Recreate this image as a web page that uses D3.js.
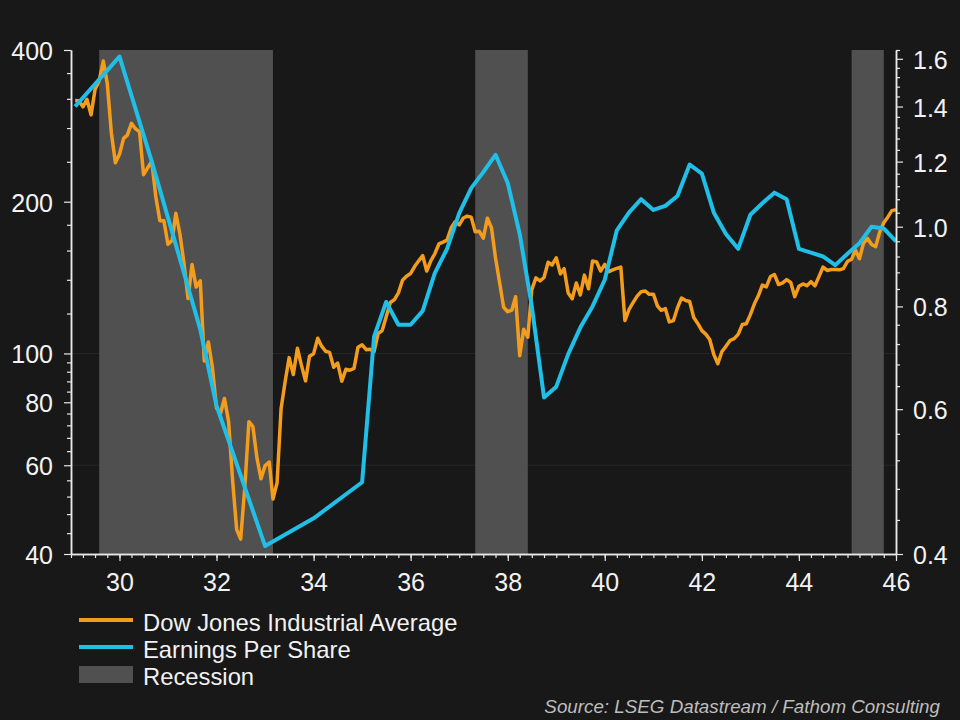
<!DOCTYPE html>
<html>
<head>
<meta charset="utf-8">
<script src="https://cdn.jsdelivr.net/npm/d3@7"></script>
<style>
  body { margin: 0; background: #181818; }
  svg { display: block; }
</style>
</head>
<body>
<svg id="chart" width="960" height="720"></svg>
<script>
// DJIA month-end close, Jan 1929 .. Dec 1945
const dowClose = [
  317.5, 317.4, 308.5, 319.3, 297.4, 333.8, 347.7, 380.3, 343.5, 273.5, 238.9, 248.5,
  267.1, 271.1, 286.1, 279.2, 275.1, 226.3, 233.5, 240.4, 204.9, 183.4, 183.4, 164.6,
  167.6, 189.7, 172.4, 151.2, 128.5, 150.2, 135.4, 139.4, 96.6, 105.4, 93.9, 77.9,
  76.2, 81.4, 73.3, 56.1, 44.7, 42.8, 54.3, 73.2, 71.6, 61.9, 56.4, 59.9,
  60.9, 51.4, 55.4, 77.7, 88.1, 98.1, 90.8, 102.4, 94.8, 88.2, 98.7, 99.9,
  107.2, 103.5, 101.0, 100.5, 93.9, 95.7, 88.1, 93.0, 92.6, 93.4, 102.9, 104.0,
  101.7, 101.9, 100.8, 109.5, 111.0, 118.2, 126.2, 127.9, 131.9, 139.7, 142.3, 144.1,
  148.9, 152.5, 156.3, 145.7, 152.6, 157.7, 164.9, 166.3, 167.8, 177.4, 182.5, 179.9,
  185.7, 187.2, 186.4, 174.3, 174.7, 169.3, 185.5, 177.4, 154.6, 138.1, 123.5, 121.0,
  121.9, 129.6, 99.0, 111.7, 107.7, 133.9, 141.2, 139.3, 141.5, 151.7, 149.8, 154.8,
  143.8, 147.3, 131.8, 128.4, 138.0, 130.6, 143.0, 134.4, 152.5, 151.9, 145.7, 150.2,
  145.3, 146.5, 147.5, 148.4, 116.2, 122.1, 126.1, 129.9, 132.6, 133.0, 131.0, 131.1,
  124.1, 121.8, 122.7, 115.5, 116.2, 123.1, 128.8, 127.4, 126.8, 117.8, 114.7, 111.0,
  109.1, 106.6, 99.5, 95.4, 100.9, 103.3, 106.1, 107.0, 109.1, 114.1, 114.5, 119.4,
  125.6, 130.0, 136.6, 135.5, 142.1, 143.4, 137.0, 138.0, 140.1, 138.3, 129.6, 135.9,
  137.4, 136.3, 138.8, 136.2, 142.2, 148.4, 146.1, 146.7, 146.7, 146.5, 147.3, 152.3,
  153.8, 160.4, 154.1, 165.4, 169.1, 164.5, 162.9, 174.3, 181.7, 186.6, 192.0, 192.9
];

// earnings per share (right axis)
const epsDates = [
  "1929-02", "1930-01", "1930-09", "1931-09", "1932-01", "1933-01", "1934-01", "1935-01",
  "1935-04", "1935-07", "1935-10",
  "1936-01", "1936-04", "1936-07", "1936-10",
  "1937-01", "1937-04", "1937-07", "1937-10",
  "1938-01", "1938-04", "1938-07", "1938-10",
  "1939-01", "1939-04", "1939-07", "1939-10",
  "1940-01", "1940-04", "1940-07", "1940-10",
  "1941-01", "1941-04", "1941-07", "1941-10",
  "1942-01", "1942-04", "1942-07", "1942-10",
  "1943-01", "1943-04", "1943-07", "1943-10",
  "1944-01", "1944-04", "1944-07", "1944-10",
  "1945-01", "1945-04", "1945-07", "1945-10",
  "1946-01"
];
const epsValues = [
  1.40, 1.61, 1.20, 0.75, 0.606, 0.409, 0.442, 0.489,
  0.735, 0.81, 0.76,
  0.76, 0.79, 0.878, 0.94,
  1.039, 1.114, 1.165, 1.223,
  1.13, 0.98, 0.80, 0.62,
  0.639, 0.70, 0.754, 0.80,
  0.862, 0.99, 1.04, 1.08,
  1.048, 1.06, 1.09, 1.19,
  1.16, 1.04, 0.98, 0.94,
  1.034, 1.068, 1.10, 1.08,
  0.94, 0.93, 0.92, 0.898,
  0.927, 0.955, 1.0, 0.995,
  0.96
];

const recStart = ["1929-08", "1937-05", "1945-02"],
  recEnd = ["1933-03", "1938-06", "1945-10"];

const leftTicks = [40, 60, 80, 100, 200, 400],
  rightTicks = [0.4, 0.6, 0.8, 1.0, 1.2, 1.4, 1.6],
  gridValues = [60, 100];

const legendLabels = ["Dow Jones Industrial Average", "Earnings Per Share", "Recession"];
const sourceText = "Source: LSEG Datastream / Fathom Consulting";

const dowColor = "#f49c1c",
  epsColor = "#1fbfe8",
  recColor = "#505050",
  axisColor = "#e8e8e8",
  font = "'Liberation Sans', Arial, sans-serif";

const plotLeft = 71, plotRight = 896, plotTop = 50, plotBottom = 554;

const parseMonth = d3.timeParse("%Y-%m");

const svg = d3.select("#chart")
  .style("background", "#181818")
  .style("font-family", font);

const x = d3.scaleTime()
  .domain([new Date(1929, 0, 1), new Date(1946, 0, 1)])
  .range([plotLeft, plotRight]);

const yDow = d3.scaleLog().domain([40, 400]).range([plotBottom, plotTop]);
const yEps = d3.scaleLog().domain([0.4, 1.64]).range([plotBottom, plotTop]);

// faint gridlines (drawn under the recession bars)
svg.append("g").selectAll("line").data(gridValues).enter()
  .append("line")
  .attr("x1", plotLeft).attr("x2", plotRight)
  .attr("y1", d => yDow(d)).attr("y2", d => yDow(d))
  .attr("stroke", "#262626")
  .attr("stroke-width", 1);

// recession bars
svg.append("g").selectAll("rect").data(recStart).enter()
  .append("rect")
  .attr("x", d => x(parseMonth(d)))
  .attr("width", (d, i) => x(parseMonth(recEnd[i])) - x(parseMonth(d)))
  .attr("y", plotTop)
  .attr("height", plotBottom - plotTop)
  .attr("fill", recColor);

// series
const dowData = dowClose.map((v, i) => ({ date: new Date(1929, i + 1, 1), value: v }));
const epsData = epsValues.map((v, i) => ({ date: parseMonth(epsDates[i]), value: v }));

const dowLine = d3.line().x(d => x(d.date)).y(d => yDow(d.value));
const epsLine = d3.line().x(d => x(d.date)).y(d => yEps(d.value));

svg.append("path")
  .datum(dowData)
  .attr("d", dowLine)
  .attr("fill", "none")
  .attr("stroke", dowColor)
  .attr("stroke-width", 3.5)
  .attr("stroke-linejoin", "round");

svg.append("path")
  .datum(epsData)
  .attr("d", epsLine)
  .attr("fill", "none")
  .attr("stroke", epsColor)
  .attr("stroke-width", 4)
  .attr("stroke-linejoin", "round");

// axes
function styleAxis(g) {
  g.selectAll("path").attr("stroke", axisColor).attr("stroke-width", 1.5);
  g.selectAll("line").attr("stroke", axisColor).attr("stroke-width", 1.2);
  g.selectAll("text")
    .attr("fill", "#f2f2f2")
    .style("font-size", "25px")
    .style("font-family", font);
}

// x: quarterly minor ticks + labelled ticks every 2 years
const quarters = d3.timeMonth.every(3).range(new Date(1929, 0, 1), new Date(1946, 0, 2));
svg.append("g")
  .attr("transform", `translate(0,${plotBottom})`)
  .call(d3.axisBottom(x).tickValues(quarters).tickSize(4).tickSizeOuter(0).tickFormat(""))
  .call(styleAxis);

const yearTicks = d3.timeYear.every(2).range(new Date(1930, 0, 1), new Date(1946, 0, 2));
svg.append("g")
  .attr("transform", `translate(0,${plotBottom})`)
  .call(d3.axisBottom(x).tickValues(yearTicks).tickSize(7).tickSizeOuter(0)
    .tickPadding(12).tickFormat(d3.timeFormat("%y")))
  .call(styleAxis);

// left axis (log)
const leftMinor = d3.range(44, 100, 4).concat(d3.range(120, 200, 20), d3.range(240, 400, 40))
  .filter(d => leftTicks.indexOf(d) < 0);

svg.append("g")
  .attr("transform", `translate(${plotLeft},0)`)
  .call(d3.axisLeft(yDow).tickValues(leftMinor).tickSize(4).tickSizeOuter(0).tickFormat(""))
  .call(styleAxis);

svg.append("g")
  .attr("transform", `translate(${plotLeft},0)`)
  .call(d3.axisLeft(yDow).tickValues(leftTicks).tickSize(7).tickSizeOuter(0)
    .tickPadding(11).tickFormat(d3.format("d")))
  .call(styleAxis)
  .selectAll("text").attr("dy", "0.38em");

// right axis (log)
const rightMinor = d3.range(1, 32).map(k => +(0.4 + 0.04 * k).toFixed(2))
  .filter(d => rightTicks.every(t => Math.abs(t - d) > 1e-6));

svg.append("g")
  .attr("transform", `translate(${plotRight},0)`)
  .call(d3.axisRight(yEps).tickValues(rightMinor).tickSize(4).tickSizeOuter(0).tickFormat(""))
  .call(styleAxis);

svg.append("g")
  .attr("transform", `translate(${plotRight},0)`)
  .call(d3.axisRight(yEps).tickValues(rightTicks).tickSize(7).tickSizeOuter(0)
    .tickPadding(10).tickFormat(d3.format(".1f")))
  .call(styleAxis)
  .selectAll("text").attr("dy", "0.38em");

// legend
const legend = svg.append("g").attr("transform", "translate(79,620)");
const legendRow = 27;

legend.selectAll(".swatch-line").data([dowColor, epsColor]).enter()
  .append("line")
  .attr("x1", 0).attr("x2", 54)
  .attr("y1", (d, i) => i * legendRow).attr("y2", (d, i) => i * legendRow)
  .attr("stroke", d => d)
  .attr("stroke-width", 4);

legend.append("rect")
  .attr("x", 0).attr("y", 2 * legendRow - 8)
  .attr("width", 54).attr("height", 17)
  .attr("fill", recColor);

legend.selectAll("text").data(legendLabels).enter()
  .append("text")
  .attr("x", 64)
  .attr("y", (d, i) => i * legendRow + 11)
  .attr("fill", "#f2f2f2")
  .style("font-size", "23.8px")
  .text(d => d);

// source note
svg.append("text")
  .attr("x", 940).attr("y", 713)
  .attr("text-anchor", "end")
  .attr("fill", "#bdbdbd")
  .style("font-size", "18.8px")
  .style("font-style", "italic")
  .text(sourceText);
</script>
</body>
</html>
